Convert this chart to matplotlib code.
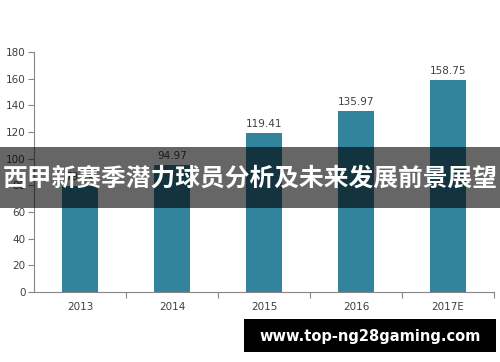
import matplotlib
matplotlib.use("Agg")
import matplotlib.pyplot as plt
from matplotlib.patches import Rectangle

categories = ["2013", "2014", "2015", "2016", "2017E"]
values = [79.14, 94.97, 119.41, 135.97, 158.75]
yticks = [0, 20, 40, 60, 80, 100, 120, 140, 160, 180]
title = "西甲新赛季潜力球员分析及未来发展前景展望"
watermark = "www.top-ng28gaming.com"

plt.rcParams['font.family'] = ['Noto Sans CJK SC', 'DejaVu Sans']

fig = plt.figure(figsize=(5, 3.62), dpi=100)
W, H = 500, 362
ax = fig.add_axes([34 / W, 1 - 292 / H, 460 / W, 240 / H])
x = list(range(len(categories)))
ax.bar(x, values, width=0.39, color="#31849B", zorder=2)
for xi, v in zip(x, values):
    ax.text(xi, v + 3, f"{v:.2f}", ha="center", va="bottom", fontsize=7.5,
            color="#404040", family="DejaVu Sans")
ax.set_xlim(-0.5, len(categories) - 0.5)
ax.set_ylim(0, 180)
ax.set_yticks(yticks)
ax.set_yticklabels([str(t) for t in yticks], fontsize=7.5, color="#404040", family="DejaVu Sans")
ax.set_xticks([i + 0.5 for i in x[:-1]] + [len(categories) - 0.5], minor=False)
ax.set_xticklabels([])
ax.set_xticks(x, minor=True)
ax.set_xticklabels(categories, minor=True, fontsize=7.5, color="#404040", family="DejaVu Sans")
ax.tick_params(axis="x", which="minor", length=0, pad=7)
ax.tick_params(axis="x", which="major", length=4, color="#868686", direction="out")
ax.tick_params(axis="y", length=4, color="#868686", pad=2)
for s in ["top", "right"]:
    ax.spines[s].set_visible(False)
for s in ["left", "bottom"]:
    ax.spines[s].set_color("#868686")
    ax.spines[s].set_linewidth(0.8)

# banner overlay
fig.patches.append(Rectangle((0, 1 - 208 / H), 1, 61 / H, transform=fig.transFigure,
                             facecolor="black", alpha=0.6, edgecolor="none", zorder=5))
fig.text(0.5, 1 - 179 / H, title, ha="center", va="center", fontsize=17.8,
         fontweight="bold", color="white", zorder=6)

# watermark
fig.patches.append(Rectangle((244 / W, 1 - 352 / H), 252 / W, 33 / H, transform=fig.transFigure,
                             facecolor="black", edgecolor="none", zorder=5))
fig.text(370 / W, 1 - 336 / H, watermark, ha="center", va="center", fontsize=10.5,
         fontweight="bold", color="white", family="DejaVu Sans", zorder=6)

fig.savefig("out.png", dpi=100)
